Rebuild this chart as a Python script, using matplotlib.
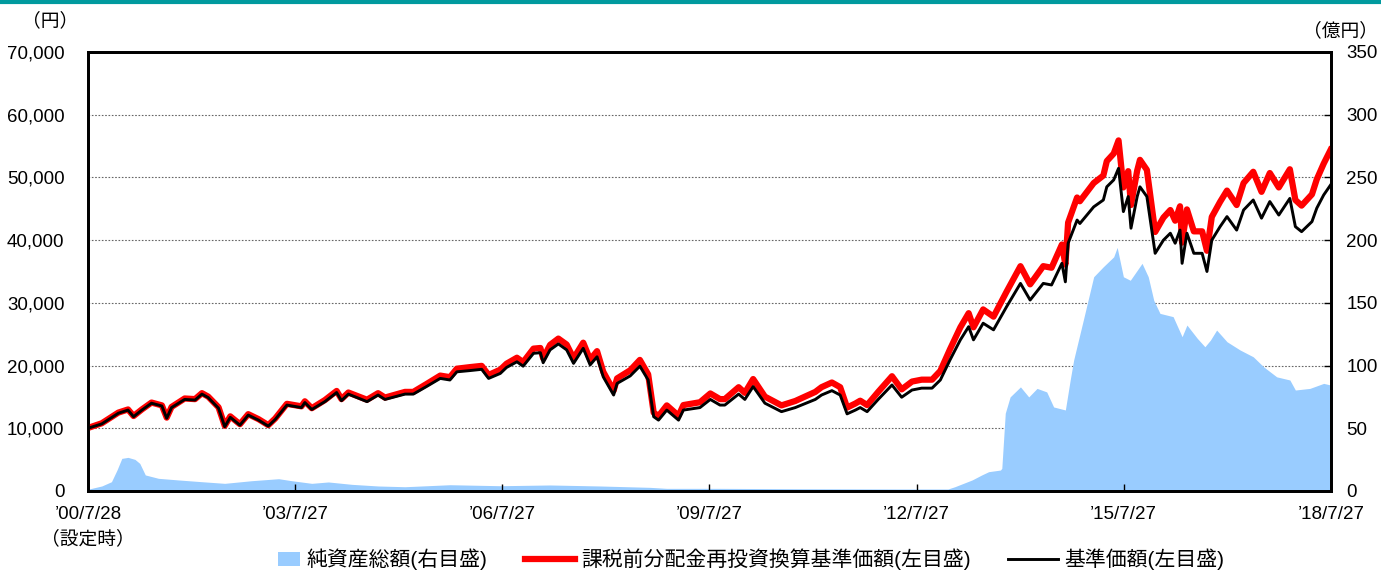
import numpy as np
import pandas as pd
import matplotlib
matplotlib.use("Agg")
import matplotlib.pyplot as plt
from matplotlib.lines import Line2D
from matplotlib.patches import Patch, Rectangle
from matplotlib.legend_handler import HandlerPatch

plt.rcParams['font.family'] = ['Liberation Sans', 'Noto Sans CJK JP']

LAUNCH = pd.Timestamp('2000-07-28')

# years since launch, price series (円)
price_t = [0.00, 0.20, 0.44, 0.58, 0.66, 0.78, 0.92, 1.07, 1.14, 1.21, 1.40, 1.55, 1.65, 1.74,
           1.89, 1.98, 2.06, 2.20, 2.32, 2.47, 2.61, 2.71, 2.88, 3.09, 3.14, 3.24, 3.43, 3.60,
           3.67, 3.77, 4.04, 4.20, 4.30, 4.59, 4.71, 4.90, 5.10, 5.24, 5.34, 5.53, 5.70, 5.80,
           5.97, 6.06, 6.21, 6.30, 6.45, 6.55, 6.59, 6.69, 6.81, 6.93, 7.03, 7.17, 7.27, 7.37,
           7.46, 7.61, 7.66, 7.85, 7.99, 8.11, 8.19, 8.26, 8.38, 8.55, 8.62, 8.86, 9.01, 9.15,
           9.22, 9.42, 9.51, 9.63, 9.80, 10.04, 10.24, 10.53, 10.62, 10.77, 10.89, 10.99, 11.11,
           11.18, 11.28, 11.44, 11.64, 11.78, 11.93, 12.07, 12.22, 12.34, 12.48, 12.63, 12.75,
           12.82, 12.96, 13.11, 13.30, 13.50, 13.64, 13.83, 13.95, 14.10, 14.15, 14.19, 14.32,
           14.36, 14.56, 14.70, 14.75, 14.85, 14.92, 14.99, 15.06, 15.10, 15.19, 15.23, 15.33,
           15.45, 15.57, 15.67, 15.74, 15.81, 15.84, 15.91, 16.01, 16.13, 16.20, 16.27, 16.39,
           16.49, 16.63, 16.73, 16.87, 16.99, 17.11, 17.24, 17.40, 17.48, 17.57, 17.72, 17.79,
           17.89, 17.99]

nav = [10000, 10700, 12400, 12900, 11850, 12900, 14000, 13550, 11600, 13300, 14600, 14500, 15450, 14900,
       13200, 10250, 11750, 10500, 12100, 11300, 10350, 11400, 13700, 13300, 14100, 13000, 14250, 15700,
       14400, 15450, 14250, 15300, 14600, 15450, 15450, 16650, 17950, 17700, 19000, 19200, 19400, 17950,
       18750, 19700, 20600, 19900, 21950, 22050, 20450, 22500, 23450, 22500, 20350, 22750, 20100, 21400,
       18200, 15300, 17150, 18350, 19900, 17700, 11850, 11300, 12900, 11300, 12900, 13300, 14600, 13700,
       13700, 15450, 14600, 16650, 14000, 12650, 13300, 14600, 15300, 16000, 15300, 12300, 12900,
       13300, 12650, 14600, 16900, 14950, 16100, 16400, 16400, 17700, 20900, 24100, 26200,
       24100, 26750, 25700, 29400, 33100, 30450, 33100, 32850, 36300, 33350, 39500, 43200,
       42650, 45300, 46400, 48500, 49600, 51450, 44550, 46950, 41900, 46950, 48500, 46950,
       37900, 40000, 41100, 39500, 41600, 36300, 41100, 37900, 37900, 35000, 40000, 42150,
       43750, 41600, 44800, 46400, 43500, 46150, 44000, 46650, 42150, 41350, 42950, 45100,
       47200, 48800]

nav_reinvested = [10050, 10800, 12500, 13000, 11950, 13000, 14100, 13650, 11700, 13400, 14750, 14650, 15600, 15050,
                  13350, 10400, 11900, 10650, 12250, 11450, 10500, 11550, 13900, 13500, 14300, 13200, 14500, 15950,
                  14650, 15700, 14550, 15600, 14900, 15800, 15800, 17050, 18400, 18150, 19500, 19750, 19950, 18500,
                  19350, 20300, 21250, 20550, 22700, 22800, 21150, 23300, 24300, 23350, 21150, 23650, 20950, 22300,
                  19000, 16000, 17950, 19250, 20900, 18600, 12500, 11950, 13650, 12000, 13700, 14150, 15550, 14650,
                  14650, 16550, 15650, 17850, 15050, 13650, 14350, 15800, 16550, 17300, 16550, 13300, 13950,
                  14400, 13700, 15800, 18300, 16200, 17450, 17750, 17750, 19150, 22600, 26100, 28350,
                  26100, 28950, 27800, 31800, 35850, 32950, 35850, 35600, 39300, 36100, 42800, 46800,
                  46200, 49100, 50300, 52600, 53800, 55900, 48400, 51000, 45600, 51100, 52800, 51200,
                  41300, 43600, 44800, 43100, 45400, 39600, 44900, 41400, 41400, 38300, 43700, 46100,
                  47900, 45600, 49100, 50900, 47700, 50700, 48400, 51300, 46400, 45500, 47300, 49700,
                  52200, 54400]

# years since launch, net assets (億円)
assets_t = [0.00, 0.20, 0.34, 0.42, 0.49, 0.58, 0.68, 0.75, 0.83, 1.02, 1.31, 1.65, 1.98, 2.37, 2.76,
            2.95, 3.24, 3.48, 3.82, 4.20, 4.59, 5.24, 5.97, 6.69, 7.41, 8.14, 8.38, 9.15, 10.31,
            11.76, 12.45, 12.55, 12.80, 12.94, 13.04, 13.21, 13.23, 13.28, 13.35, 13.50, 13.62,
            13.74, 13.88, 13.98, 14.15, 14.22, 14.27, 14.41, 14.56, 14.70, 14.85, 14.90, 14.99,
            15.09, 15.26, 15.35, 15.43, 15.52, 15.71, 15.84, 15.91, 16.06, 16.17, 16.25, 16.34,
            16.49, 16.68, 16.87, 17.02, 17.21, 17.40, 17.48, 17.69, 17.89, 17.99]
assets = [1.4, 4.0, 7.4, 16.7, 26.0, 26.8, 25.2, 22.0, 12.8, 10.1, 8.8, 7.4, 6.1, 8.2, 9.8,
          8.2, 6.1, 7.2, 5.3, 4.0, 3.4, 5.0, 4.2, 4.8, 4.0, 2.9, 2.1, 2.1, 1.8,
          1.6, 1.6, 3.4, 8.8, 12.8, 15.4, 16.7, 18.1, 62.0, 75.0, 83.0, 75.0,
          81.8, 79.0, 67.0, 64.6, 88.5, 104.4, 136.3, 170.8, 178.8, 186.7, 194.2, 170.8,
          168.0, 181.5, 170.8, 152.0, 141.6, 139.0, 123.0, 132.3, 121.7, 115.0, 120.3, 128.3,
          119.0, 112.4, 107.0, 99.0, 91.0, 88.5, 80.5, 81.8, 85.8, 84.5]

tick_dates = ['2000-07-28', '2003-07-27', '2006-07-27', '2009-07-27', '2012-07-27', '2015-07-27', '2018-07-27']
tick_labels = ['’00/7/28\n（設定時）', '’03/7/27', '’06/7/27', '’09/7/27', '’12/7/27', '’15/7/27', '’18/7/27']
legend_labels = ['純資産総額(右目盛)', '課税前分配金再投資換算基準価額(左目盛)', '基準価額(左目盛)']


def to_dates(years):
    return LAUNCH + pd.to_timedelta(np.array(years) * 365.25, unit='D')


class ShortPatch(HandlerPatch):
    # narrower swatch for the area entry
    def create_artists(self, legend, orig_handle, xdescent, ydescent, width, height, fontsize, trans):
        w = width * 0.45
        p = Rectangle((-xdescent + width - w, -ydescent), w, height,
                      facecolor=orig_handle.get_facecolor(), edgecolor='none', transform=trans)
        return [p]


price_dates = to_dates(price_t)
asset_dates = to_dates(assets_t)

fig = plt.figure(figsize=(13.81, 5.75), dpi=100)
ax = fig.add_axes([0.0637, 0.1461, 0.9001, 0.7635])
ax2 = ax.twinx()

# net assets on the right axis, drawn underneath
ax2.fill_between(asset_dates, 0, assets, color='#99CCFF', lw=0, zorder=2)
ax2.set_ylim(0, 350)
ax2.set_yticks(np.arange(0, 351, 50))
ax2.grid(axis='y', color='#666666', ls=(0, (1.5, 1.5)), lw=0.8, zorder=0)
ax2.set_axisbelow(True)

ax.set_zorder(ax2.get_zorder() + 1)
ax.patch.set_visible(False)
ax.plot(price_dates, nav_reinvested, color='#FF0000', lw=4.5, solid_joinstyle='round')
ax.plot(price_dates, nav, color='#000000', lw=2.1)
ax.set_ylim(0, 70000)
ax.set_yticks(np.arange(0, 70001, 10000))
ax.set_yticklabels([f'{v:,}' for v in range(0, 70001, 10000)])
ax.set_xlim(pd.Timestamp('2000-07-28'), pd.Timestamp('2018-07-27'))
ax.set_xticks(pd.to_datetime(tick_dates))
ax.set_xticklabels(tick_labels, linespacing=1.5, va='top', ha='center', ma='center')

for a in (ax, ax2):
    for s in a.spines.values():
        s.set_linewidth(2)
ax.tick_params(axis='y', direction='in', length=0, pad=17, labelsize=13.5)
ax.tick_params(axis='x', direction='in', length=5, width=1, pad=11, labelsize=13.5)
ax2.tick_params(axis='y', direction='in', length=5, width=1, pad=11, labelsize=13.5)

fig.text(0.016, 0.963, '（円）', fontsize=13.5, va='center', ha='left')
fig.text(0.998, 0.946, '（億円）', fontsize=13.5, va='center', ha='right')

# teal rule along the top
fig.add_artist(Line2D([0, 1], [0.997, 0.997], transform=fig.transFigure, color='#009A9E', lw=3))

handles = [Patch(facecolor='#99CCFF', edgecolor='none'),
           Line2D([], [], color='#FF0000', lw=4.5),
           Line2D([], [], color='#000000', lw=2.1)]
fig.legend(handles, legend_labels, loc='center', bbox_to_anchor=(0.534, 0.027), ncol=3,
           frameon=False, fontsize=15, handlelength=2.4, handletextpad=0.3, columnspacing=1.8,
           borderpad=0.1, handler_map={Patch: ShortPatch()})

fig.savefig('out.png', dpi=100)
